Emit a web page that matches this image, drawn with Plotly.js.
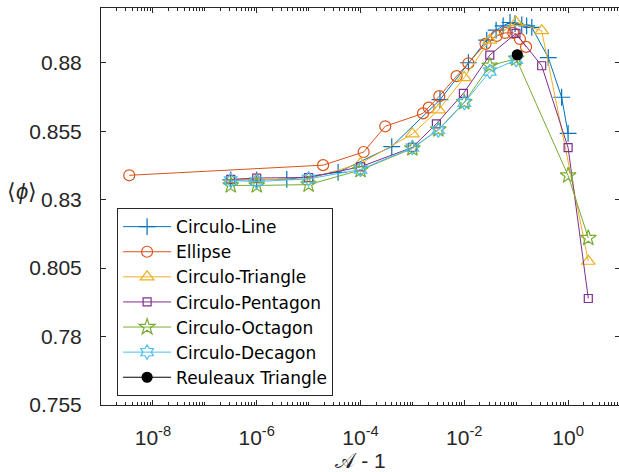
<!DOCTYPE html>
<html>
<head>
<meta charset="utf-8">
<script src="https://cdn.plot.ly/plotly-3.0.1.min.js"></script>
<style>html,body{margin:0;padding:0;overflow:hidden;background:#fff;}</style>
</head>
<body>
<div id="chart" style="width:620px;height:472px;"></div>
<script>
// ---- data ----
const lineX = [3.16e-7, 1e-6, 3.8e-6, 3.7e-5, 4e-4, 3.4e-3, 1.2e-2, 2.7e-2, 4.1e-2, 5.6e-2, 7.6e-2, 9.5e-2, 0.128, 0.159, 0.2, 0.415, 0.75, 1.0];
const lineY = [0.8372, 0.8372, 0.8374, 0.8400, 0.8494, 0.8665, 0.8800, 0.8883, 0.8919, 0.8935, 0.8947, 0.8943, 0.8938, 0.8935, 0.8929, 0.8819, 0.8674, 0.8542];

const ellipseX = [3.5e-9, 1.9e-5, 1.15e-4, 3e-4, 1.6e-3, 2.06e-3, 3.3e-3, 7.1e-3, 1.2e-2, 2.56e-2, 4.2e-2, 6.1e-2, 8.8e-2, 0.118, 0.155];
const ellipseY = [0.8389, 0.8426, 0.8474, 0.8568, 0.8615, 0.8636, 0.8678, 0.8751, 0.8798, 0.8869, 0.8898, 0.8909, 0.8909, 0.8887, 0.8858];

const triX = [3.16e-7, 1e-6, 1e-5, 1e-4, 1e-3, 3.2e-3, 1e-2, 3.1e-2, 0.1, 0.31, 2.45];
const triY = [0.8373, 0.8373, 0.8376, 0.8432, 0.8540, 0.8628, 0.8746, 0.8883, 0.8947, 0.8917, 0.8075];

const pentX = [3.16e-7, 1e-6, 1e-5, 1e-4, 1e-3, 2.9e-3, 9.6e-3, 3.1e-2, 0.099, 0.31, 1.0, 2.45];
const pentY = [0.8374, 0.8379, 0.8381, 0.8420, 0.8491, 0.8577, 0.8688, 0.8828, 0.8907, 0.8789, 0.8490, 0.7939];

const octX = [3.16e-7, 1e-6, 1e-5, 1e-4, 1e-3, 3.16e-3, 1e-2, 3.1e-2, 0.1, 1.0, 2.45];
const octY = [0.8352, 0.8352, 0.8355, 0.8408, 0.8487, 0.8556, 0.8656, 0.8789, 0.8815, 0.8388, 0.8160];

const decX = [3.16e-7, 1e-6, 1e-5, 1e-4, 1e-3, 3.16e-3, 1e-2, 3.1e-2, 0.1];
const decY = [0.8370, 0.8366, 0.8376, 0.8410, 0.8490, 0.8554, 0.8654, 0.8768, 0.8811];

const reuX = [0.105];
const reuY = [0.8829];

const names = ["Circulo-Line", "Ellipse", "Circulo-Triangle", "Circulo-Pentagon", "Circulo-Octagon", "Circulo-Decagon", "Reuleaux Triangle"];
const yTicks = [0.755, 0.78, 0.805, 0.83, 0.855, 0.88];
const yTickText = ["0.755", "0.78", "0.805", "0.83", "0.855", "0.88"];
const xTickPowers = [-8, -6, -4, -2, 0];

// ---- styles ----
const colors = ["#0072BD", "#D95319", "#EDB120", "#7E2F8E", "#77AC30", "#4DBEEE", "#000000"];
const symbols = ["cross-thin-open", "circle-open", "triangle-up-open", "square-open", "star-open", "hexagram-open", "circle"];
const sizes = [12, 11, 12, 8, 12, 11, 10];
const xs = [lineX, ellipseX, triX, pentX, octX, decX, reuX];
const ys = [lineY, ellipseY, triY, pentY, octY, decY, reuY];

const traces = names.map((n, i) => ({
  x: xs[i], y: ys[i], name: n, type: "scatter", mode: "lines+markers",
  line: {color: colors[i], width: 1},
  marker: {symbol: symbols[i], size: sizes[i], color: colors[i],
           line: {color: colors[i], width: 1.2}}
}));

const tickvals = xTickPowers.map(p => Math.pow(10, p));
const ticktext = xTickPowers.map(p => "10<sup>" + String(p) + "</sup>");

const axisColor = "#262626";
const layout = {
  width: 620, height: 472,
  margin: {l: 101, r: 0, t: 8, b: 67},
  paper_bgcolor: "#fff", plot_bgcolor: "#fff",
  font: {family: "Liberation Sans, Arial, sans-serif", color: axisColor, size: 20},
  showlegend: true,
  legend: {
    x: 0.031, y: 0.496, xanchor: "left", yanchor: "top",
    bgcolor: "#fff", bordercolor: axisColor, borderwidth: 1,
    font: {family: "DejaVu Sans, sans-serif", size: 17, color: "#000"}, tracegroupgap: 0, itemwidth: 48
  },
  xaxis: {
    type: "log", range: [-9, 1], autorange: false,
    tickmode: "array", tickvals: tickvals, ticktext: ticktext,
    ticks: "inside", ticklen: 5, tickwidth: 1, tickcolor: axisColor,
    minor: {ticks: "inside", ticklen: 3, tickwidth: 1, tickcolor: axisColor, dtick: "D1", showgrid: false},
    showline: true, linecolor: axisColor, linewidth: 1, mirror: "ticks",
    showgrid: false, zeroline: false,
    tickfont: {size: 21, color: axisColor}, ticklabelstandoff: 14,
    title: {text: "𝒜 - 1", font: {size: 21, color: axisColor}, standoff: 9},
    automargin: false
  },
  yaxis: {
    range: [0.755, 0.9], autorange: false,
    tickmode: "array", tickvals: yTicks, ticktext: yTickText,
    ticks: "inside", ticklen: 5, tickwidth: 1, tickcolor: axisColor,
    showline: true, linecolor: axisColor, linewidth: 1, mirror: "ticks",
    showgrid: false, zeroline: false,
    tickfont: {size: 21, color: axisColor}, ticklabelstandoff: 14,
    automargin: false
  },
  annotations: [{
    xref: "paper", yref: "paper", x: -0.152, y: 0.537, xanchor: "center", yanchor: "middle",
    text: "⟨<i>ϕ</i>⟩", showarrow: false, font: {size: 22, color: axisColor}
  }]
};

Plotly.newPlot("chart", traces, layout, {staticPlot: true, displayModeBar: false});
</script>
</body>
</html>
